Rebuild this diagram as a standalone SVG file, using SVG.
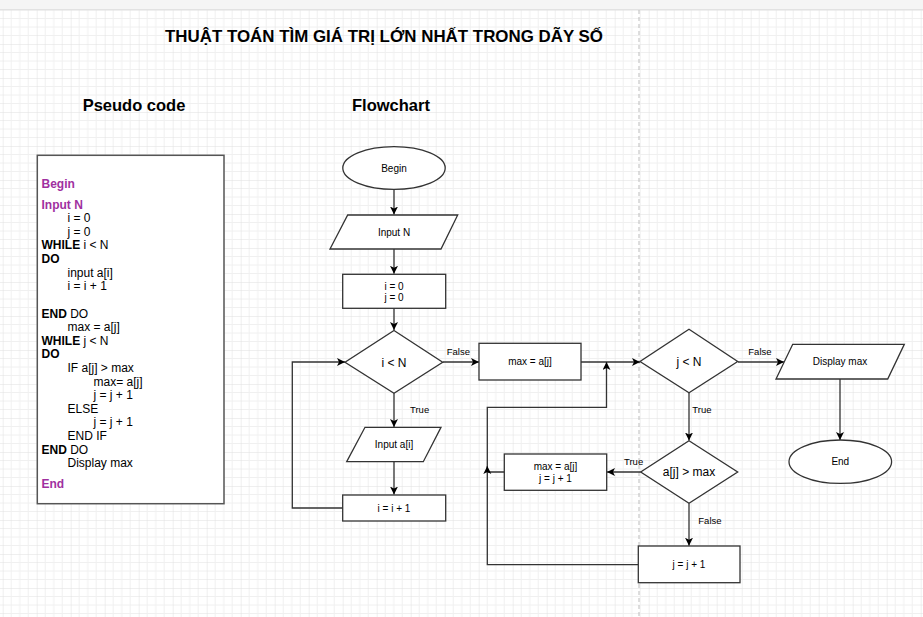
<svg xmlns="http://www.w3.org/2000/svg" width="923" height="617" viewBox="0 0 923 617">
<style>
.node{fill:#fff;stroke:#333;stroke-width:1.3}
.edge{fill:none;stroke:#333;stroke-width:1.3}
.lbl{font-family:"Liberation Sans",Arial,sans-serif;font-size:10px;fill:#000;text-anchor:middle}
.dlbl{font-family:"Liberation Sans",Arial,sans-serif;font-size:12px;fill:#000;text-anchor:middle}
.elbl{font-family:"Liberation Sans",Arial,sans-serif;font-size:9.5px;fill:#000}
.code{font-family:"Liberation Sans",Arial,sans-serif;font-size:12px;fill:#000}
.kw{font-weight:bold}
.pk{font-weight:bold;fill:#a0309f}
.head{font-family:"Liberation Sans",Arial,sans-serif;font-weight:bold;fill:#000}
</style>
<defs>
<pattern id="grid" patternUnits="userSpaceOnUse" x="2.7" y="10" width="34" height="34">
<path d="M8.5,0V34M17,0V34M25.5,0V34M0,8.5H34M0,17H34M0,25.5H34" stroke="#f0f0f0" stroke-width="1" fill="none"/>
<path d="M0,0V34M0,0H34" stroke="#e0e0e0" stroke-width="1" fill="none"/>
</pattern>
<marker id="arr" markerUnits="userSpaceOnUse" markerWidth="10" markerHeight="10" refX="8" refY="4" orient="auto">
<path d="M0,0 L8,4 L0,8 L2,4 z" fill="#000"/>
</marker>
</defs>
<rect x="0" y="0" width="923" height="617" fill="#fff"/>
<rect x="0" y="10" width="923" height="607" fill="url(#grid)"/>
<rect x="0" y="0" width="923" height="9" fill="#f5f5f5"/>
<line x1="0" y1="9.5" x2="923" y2="9.5" stroke="#e2e2e2"/>
<line x1="639" y1="10" x2="639" y2="617" stroke="#bdbdbd" stroke-dasharray="4,3"/>

<text class="head" x="165" y="42" font-size="16.5" textLength="438" lengthAdjust="spacingAndGlyphs">THUẬT TOÁN TÌM GIÁ TRỊ LỚN NHẤT TRONG DÃY SỐ</text>
<text class="head" x="134" y="111" font-size="16.5" text-anchor="middle">Pseudo code</text>
<text class="head" x="391" y="111" font-size="16.5" text-anchor="middle">Flowchart</text>

<g id="pseudocode">
<rect x="37.3" y="155.3" width="186.7" height="348.4" fill="#fff" stroke="#555" stroke-width="1.5"/>
<text class="code pk" x="41.5" y="187.7">Begin</text>
<text class="code pk" x="41.5" y="209">Input N</text>
<text class="code" x="67.5" y="222">i = 0</text>
<text class="code" x="67.5" y="235.5">j = 0</text>
<text class="code" x="41.5" y="249.3"><tspan class="kw">WHILE</tspan> i &lt; N</text>
<text class="code kw" x="41.5" y="262.5">DO</text>
<text class="code" x="67.5" y="276.5">input a[i]</text>
<text class="code" x="67.5" y="290">i = i + 1</text>
<text class="code" x="41.5" y="317.5"><tspan class="kw">END</tspan> DO</text>
<text class="code" x="67.5" y="331">max = a[j]</text>
<text class="code" x="41.5" y="344.8"><tspan class="kw">WHILE</tspan> j &lt; N</text>
<text class="code kw" x="41.5" y="358">DO</text>
<text class="code" x="67.5" y="371.7">IF a[j] &gt; max</text>
<text class="code" x="93.5" y="385.5">max= a[j]</text>
<text class="code" x="93.5" y="399">j = j + 1</text>
<text class="code" x="67.5" y="412.7">ELSE</text>
<text class="code" x="93.5" y="426">j = j + 1</text>
<text class="code" x="67.5" y="440">END IF</text>
<text class="code" x="41.5" y="453.5"><tspan class="kw">END</tspan> DO</text>
<text class="code" x="67.5" y="467">Display max</text>
<text class="code pk" x="41.5" y="488.3">End</text>
</g>

<g id="connectors">
<path class="edge" d="M394,189.3V214.5" marker-end="url(#arr)"/>
<path class="edge" d="M394,249V273.8" marker-end="url(#arr)"/>
<path class="edge" d="M394,308.3V330" marker-end="url(#arr)"/>
<path class="edge" d="M443,362H479" marker-end="url(#arr)"/>
<path class="edge" d="M394,393.3V427" marker-end="url(#arr)"/>
<path class="edge" d="M394,461.7V494.5" marker-end="url(#arr)"/>
<path class="edge" d="M342.7,508H292.3V362H345" marker-end="url(#arr)"/>
<path class="edge" d="M581,362H640" marker-end="url(#arr)"/>
<path class="edge" d="M738,362H784" marker-end="url(#arr)"/>
<path class="edge" d="M840,379V440" marker-end="url(#arr)"/>
<path class="edge" d="M689,393V440.5" marker-end="url(#arr)"/>
<path class="edge" d="M640.7,472H607" marker-end="url(#arr)"/>
<path class="edge" d="M689,503.3V545.7" marker-end="url(#arr)"/>
<path class="edge" d="M638.3,564.7H487.3V407.3H606.5V362" marker-end="url(#arr)"/>
<path class="edge" d="M504.3,472H487.3V466" marker-end="url(#arr)"/>
<text class="elbl" x="446.7" y="355">False</text>
<text class="elbl" x="410" y="413.3">True</text>
<text class="elbl" x="748.3" y="355">False</text>
<text class="elbl" x="692.3" y="413.3">True</text>
<text class="elbl" x="624" y="465">True</text>
<text class="elbl" x="698.3" y="524.3">False</text>
</g>

<g id="begin">
<ellipse class="node" cx="394" cy="168" rx="51.2" ry="21.3"/>
<text class="lbl" x="394" y="171.5">Begin</text>
</g>
<g id="inputN">
<polygon class="node" points="347.7,215 457.7,215 441,249 330,249"/>
<text class="lbl" x="394" y="235.5">Input N</text>
</g>
<g id="init">
<rect class="node" x="342.7" y="274.3" width="103" height="34"/>
<text class="lbl" x="394" y="290">i = 0</text>
<text class="lbl" x="394" y="301">j = 0</text>
</g>
<g id="condI">
<polygon class="node" points="394,330.5 442.7,362.3 394,393.3 345,362.3"/>
<text class="dlbl" x="394" y="366.5">i &lt; N</text>
</g>
<g id="inputA">
<polygon class="node" points="365,427.3 441,427.3 423.3,461.7 346.7,461.7"/>
<text class="lbl" x="394" y="447.8">Input a[i]</text>
</g>
<g id="incI">
<rect class="node" x="342.7" y="495" width="103" height="26"/>
<text class="lbl" x="394" y="511.5">i = i + 1</text>
</g>
<g id="maxInit">
<rect class="node" x="479" y="343.3" width="102" height="36.7"/>
<text class="lbl" x="530" y="365.3">max = a[j]</text>
</g>
<g id="condJ">
<polygon class="node" points="689,329.3 737.7,361.5 689,392.7 640,361.5"/>
<text class="dlbl" x="689" y="365.7">j &lt; N</text>
</g>
<g id="display">
<polygon class="node" points="792.7,344.3 904.3,344.3 887.7,379 776,379"/>
<text class="lbl" x="840" y="365.3">Display max</text>
</g>
<g id="end">
<ellipse class="node" cx="840.3" cy="461.7" rx="51.3" ry="21.7"/>
<text class="lbl" x="840.3" y="465.2">End</text>
</g>
<g id="condMax">
<polygon class="node" points="689,440.7 737.7,472 689,503.3 640.7,472"/>
<text class="dlbl" x="689" y="476.3">a[j] &gt; max</text>
</g>
<g id="update">
<rect class="node" x="504.3" y="454" width="102.4" height="36.3"/>
<text class="lbl" x="555.5" y="470">max = a[j]</text>
<text class="lbl" x="555.5" y="481.5">j = j + 1</text>
</g>
<g id="incJ">
<rect class="node" x="638.3" y="546" width="101.7" height="36.7"/>
<text class="lbl" x="689" y="567.8">j = j + 1</text>
</g>
</svg>
